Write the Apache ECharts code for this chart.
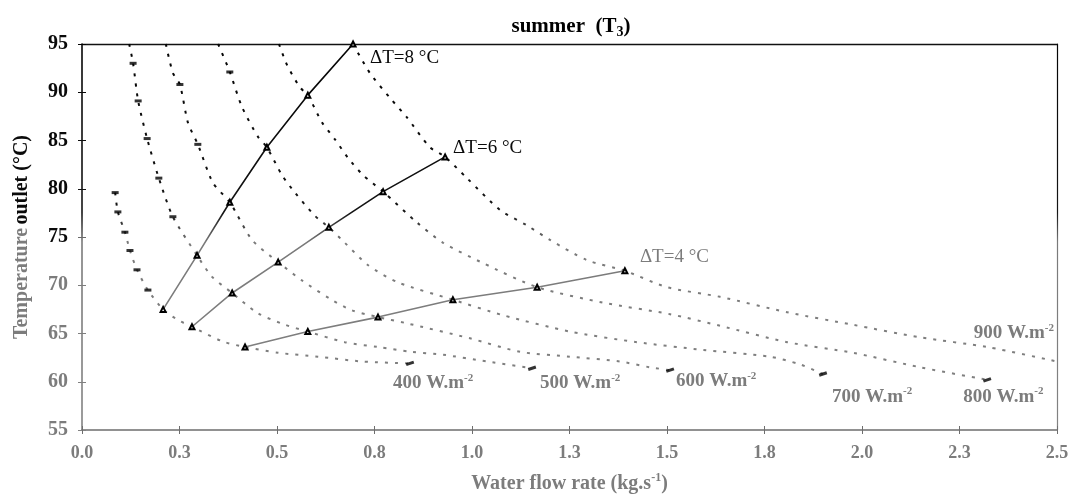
<!DOCTYPE html>
<html>
<head>
<meta charset="utf-8">
<script src="https://cdn.jsdelivr.net/npm/echarts@6/dist/echarts.min.js"></script>
<style>
  html, body { margin: 0; padding: 0; background: #fff; }
  #chart { width: 1073px; height: 494px; }
</style>
</head>
<body>
<div id="chart"></div>
<script>
// Axis tick labels (flow rate ticks every 0.25 kg/s, printed with one decimal)
const xTickLabels = ['0.0', '0.3', '0.5', '0.8', '1.0', '1.3', '1.5', '1.8', '2.0', '2.3', '2.5'];
const yTicks = [55, 60, 65, 70, 75, 80, 85, 90, 95];

// Outlet temperature (°C) against water flow rate (kg/s), one curve per irradiance level
const fluxLevels = [400, 500, 600, 700, 800, 900];
const flux400 = [[0.085, 79.6], [0.092, 77.6], [0.110, 75.5], [0.123, 73.6], [0.141, 71.6], [0.169, 69.5],
  [0.208, 67.5], [0.246, 66.4], [0.282, 65.7], [0.359, 64.2], [0.418, 63.6], [0.503, 63.0],
  [0.605, 62.6], [0.718, 62.1], [0.841, 61.9]];
const flux500 = [[0.121, 95.0], [0.131, 93.0], [0.144, 89.1], [0.167, 85.2], [0.197, 81.1], [0.233, 77.1],
  [0.295, 73.1], [0.333, 70.9], [0.385, 69.2], [0.451, 67.1], [0.521, 65.9], [0.579, 65.2],
  [0.674, 64.1], [0.759, 63.6], [0.846, 63.1], [0.926, 62.8], [1.038, 62.1], [1.154, 61.4]];
const flux600 = [[0.215, 95.0], [0.233, 92.0], [0.251, 90.8], [0.272, 86.8], [0.297, 84.6], [0.336, 80.6],
  [0.379, 78.6], [0.436, 74.7], [0.503, 72.4], [0.564, 70.5], [0.636, 68.6], [0.692, 67.4],
  [0.759, 66.7], [0.828, 66.1], [0.995, 64.5], [1.123, 63.1], [1.251, 62.6], [1.379, 62.1],
  [1.456, 61.5], [1.508, 61.2]];
const flux700 = [[0.349, 95.0], [0.379, 92.1], [0.410, 88.5], [0.451, 85.4], [0.474, 84.3], [0.513, 81.4],
  [0.546, 79.6], [0.597, 77.2], [0.633, 76.0], [0.674, 74.4], [0.733, 72.1], [0.810, 70.3],
  [0.951, 68.5], [1.079, 66.9], [1.251, 65.2], [1.423, 64.1], [1.592, 63.3], [1.764, 62.6],
  [1.841, 61.8], [1.900, 60.8]];
const flux800 = [[0.505, 95.0], [0.526, 92.8], [0.559, 90.5], [0.579, 89.7], [0.615, 86.9], [0.649, 85.1],
  [0.682, 83.2], [0.721, 81.4], [0.772, 79.7], [0.859, 76.5], [0.926, 74.4], [1.028, 72.3],
  [1.167, 69.8], [1.336, 68.2], [1.508, 67.0], [1.636, 65.8], [1.808, 64.1], [1.977, 63.0],
  [2.149, 61.5], [2.321, 60.2]];
const flux900 = [[0.695, 95.0], [0.738, 92.0], [0.790, 89.4], [0.833, 87.4], [0.892, 84.3], [0.931, 83.3],
  [0.987, 81.1], [1.072, 77.8], [1.141, 76.2], [1.200, 74.7], [1.295, 72.6], [1.392, 71.5],
  [1.500, 69.8], [1.636, 68.8], [1.808, 67.2], [1.977, 65.9], [2.149, 64.6], [2.321, 63.6],
  [2.500, 62.1]];
const fluxCurves = [flux400, flux500, flux600, flux700, flux800, flux900];

// Computed points drawn with a dash marker
const marks400 = [[0.085, 79.6], [0.092, 77.6], [0.110, 75.5], [0.123, 73.6], [0.141, 71.6], [0.169, 69.5]];
const marks500 = [[0.131, 93.0], [0.144, 89.1], [0.167, 85.2], [0.197, 81.1], [0.233, 77.1]];
const marks600 = [[0.251, 90.8], [0.297, 84.6]];
const marks700 = [[0.379, 92.1]];

// Lines of constant temperature rise, crossing the 400 … 900 W/m² curves
const deltaTLevels = [8, 6, 4];
const dT8 = [[0.208, 67.5], [0.295, 73.1], [0.379, 78.6], [0.474, 84.3], [0.579, 89.7], [0.695, 95.0]];
const dT6 = [[0.282, 65.7], [0.385, 69.2], [0.503, 72.4], [0.633, 76.0], [0.772, 79.7], [0.931, 83.3]];
const dT4 = [[0.418, 63.6], [0.579, 65.2], [0.759, 66.7], [0.951, 68.5], [1.167, 69.8], [1.392, 71.5]];
const deltaTLines = [dT8, dT6, dT4];

// ---- styling ----
const FONT = "'Liberation Serif', 'Times New Roman', serif";
const DARK = '#0a0a0a';
const GREY = '#7c7c7c';
// print ink: dark in the upper part of the figure, lighter grey lower down
const ink = {
  type: 'linear', x: 0, y: 0, x2: 0, y2: 494, global: true,
  colorStops: [
    { offset: 0, color: '#000' },
    { offset: 0.43, color: '#141414' },
    { offset: 0.49, color: '#7a7a7a' },
    { offset: 1, color: '#858585' }
  ]
};
const inkFor = (t) => (t >= 76 ? DARK : GREY);

const chart = echarts.init(document.getElementById('chart'), null, { renderer: 'canvas' });

const series = [];
fluxCurves.forEach((pts, i) => {
  series.push({
    name: fluxLevels[i] + ' W.m-2',
    type: 'line',
    data: pts,
    smooth: 0.25,
    showSymbol: false,
    silent: true,
    lineStyle: { color: ink, width: 2, type: [3, 7], cap: 'butt' },
    z: 2
  });
});
// dash markers along the curves
[marks400, marks500, marks600, marks700].forEach((m) => {
  series.push({
    type: 'scatter', data: m, symbol: 'rect', symbolSize: [7, 3],
    itemStyle: { color: ink }, silent: true, z: 3
  });
});
// end-of-curve markers (the 900 W/m² curve runs out at the frame)
series.push({
  type: 'scatter',
  data: fluxCurves.slice(0, 5).map((c) => c[c.length - 1]),
  symbol: 'rect', symbolSize: [8, 3], symbolRotate: 18,
  itemStyle: { color: ink }, silent: true, z: 3
});
deltaTLines.forEach((pts, i) => {
  series.push({
    name: 'ΔT=' + deltaTLevels[i] + ' °C',
    type: 'line',
    data: pts,
    symbol: 'emptyTriangle',
    symbolSize: 5,
    showSymbol: true,
    silent: true,
    itemStyle: { color: ink, borderColor: ink, borderWidth: 1 },
    lineStyle: { color: ink, width: 1.6 },
    z: 4
  });
});

const hiddenAxisParts = { axisLabel: { show: false }, splitLine: { show: false } };

const option = {
  backgroundColor: '#fff',
  animation: false,
  title: {
    text: '{a|summer  (T}{s|3}{a|)}',
    left: 566, top: 9, textAlign: 'center',
    textStyle: {
      rich: {
        a: { fontFamily: FONT, fontWeight: 'bold', fontSize: 21, color: '#000', lineHeight: 25 },
        s: { fontFamily: FONT, fontWeight: 'bold', fontSize: 14, color: '#000', lineHeight: 15, verticalAlign: 'bottom' }
      }
    }
  },
  grid: { left: 82, right: 16, top: 44, bottom: 64, containLabel: false, outerBoundsMode: 'none' },
  xAxis: [{
    type: 'value', min: 0, max: 2.5, interval: 0.25,
    name: '{a|Water flow rate (kg.s}{s|-1}{a|)}',
    nameLocation: 'middle', nameGap: 42,
    nameTextStyle: {
      rich: {
        a: { fontFamily: FONT, fontWeight: 'bold', fontSize: 20, color: GREY, lineHeight: 24 },
        s: { fontFamily: FONT, fontWeight: 'bold', fontSize: 12, color: GREY, lineHeight: 13, verticalAlign: 'top' }
      }
    },
    axisLine: { onZero: false, lineStyle: { color: '#6e6e6e', width: 1.6 } },
    axisTick: { length: 4, lineStyle: { color: '#6e6e6e' } },
    axisLabel: {
      formatter: (v) => xTickLabels[Math.round(v / 0.25)],
      fontFamily: FONT, fontWeight: 'bold', fontSize: 18, color: GREY, margin: 14
    },
    splitLine: { show: false }
  }, {
    // frame along the top edge
    type: 'value', min: 0, max: 2.5, position: 'top',
    axisLine: { onZero: false, lineStyle: { color: '#111', width: 1.4 } },
    axisTick: { show: false }, ...hiddenAxisParts
  }, {
    // tick marks crossing into the plot from the bottom axis
    type: 'value', min: 0, max: 2.5, interval: 0.25, position: 'bottom',
    axisLine: { show: false },
    axisTick: { inside: true, length: 4, lineStyle: { color: '#6e6e6e' } }, ...hiddenAxisParts
  }],
  yAxis: [{
    type: 'value', min: yTicks[0], max: yTicks[yTicks.length - 1], interval: 5,
    name: '{g|Temperature} {k|outlet (°C)}',
    nameLocation: 'middle', nameGap: 50, nameRotate: 90,
    nameTextStyle: {
      rich: {
        g: { fontFamily: FONT, fontWeight: 'bold', fontSize: 20, color: GREY },
        k: { fontFamily: FONT, fontWeight: 'bold', fontSize: 20, color: DARK }
      }
    },
    axisLine: { onZero: false, lineStyle: { color: ink, width: 1.6 } },
    axisTick: { length: 4, lineStyle: { color: ink } },
    axisLabel: {
      fontFamily: FONT, fontWeight: 'bold', fontSize: 20, margin: 14,
      color: (v) => (Number(v) >= 75 ? DARK : GREY)
    },
    splitLine: { show: false }
  }, {
    // frame along the right edge
    type: 'value', min: 55, max: 95, position: 'right',
    axisLine: { onZero: false, lineStyle: { color: ink, width: 1.2 } },
    axisTick: { show: false }, ...hiddenAxisParts
  }, {
    // tick marks crossing into the plot from the left axis
    type: 'value', min: 55, max: 95, interval: 5, position: 'left',
    axisLine: { show: false },
    axisTick: { inside: true, length: 4, lineStyle: { color: ink } }, ...hiddenAxisParts
  }],
  series: series
};
chart.setOption(option);

// ---- curve and line labels, placed from the data end points ----
const fluxLabelOffsets = [[-17, 20, 'left'], [8, 15, 'left'], [6, 11, 'left'], [9, 23, 'left'], [-24, 17, 'left'], [-3, -28, 'right']];
const deltaLabelOffsets = [[17, 14], [8, -9], [15, -14]];
const toPx = (p) => chart.convertToPixel({ gridIndex: 0 }, p);

const graphics = [];
fluxCurves.forEach((pts, i) => {
  const end = toPx(pts[pts.length - 1]);
  const o = fluxLabelOffsets[i];
  graphics.push({
    type: 'text',
    x: end[0] + o[0], y: end[1] + o[1],
    style: {
      text: '{a|' + fluxLevels[i] + ' W.m}{s|-2}',
      align: o[2], verticalAlign: 'middle',
      rich: {
        a: { fontFamily: FONT, fontWeight: 'bold', fontSize: 19, fill: GREY, lineHeight: 22 },
        s: { fontFamily: FONT, fontWeight: 'bold', fontSize: 11, fill: GREY, lineHeight: 12, verticalAlign: 'top' }
      }
    },
    silent: true, z: 10
  });
});
deltaTLines.forEach((pts, i) => {
  const endVal = pts[pts.length - 1];
  const end = toPx(endVal);
  const o = deltaLabelOffsets[i];
  graphics.push({
    type: 'text',
    x: end[0] + o[0], y: end[1] + o[1],
    style: {
      text: 'ΔT=' + deltaTLevels[i] + ' °C',
      align: 'left', verticalAlign: 'middle',
      fontFamily: FONT, fontSize: 19, fill: inkFor(endVal[1])
    },
    silent: true, z: 10
  });
});
chart.setOption({ graphic: graphics });
</script>
</body>
</html>
